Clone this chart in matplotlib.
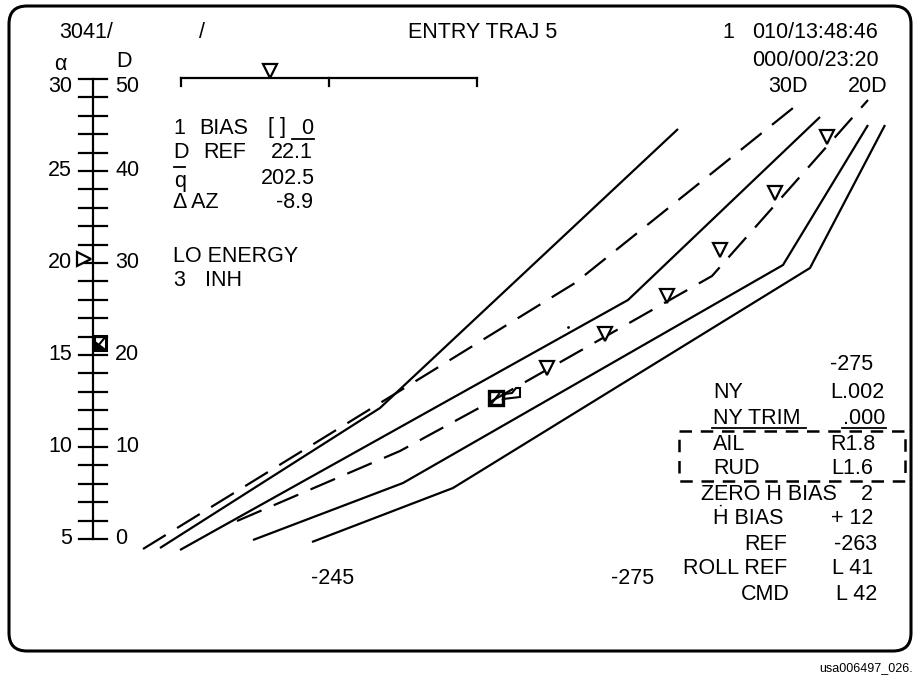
import matplotlib
matplotlib.use("Agg")
import matplotlib.pyplot as plt
from matplotlib.patches import FancyBboxPatch, Rectangle, Polygon

plt.rcParams['font.family'] = ['Liberation Sans', 'DejaVu Sans']

# ---- data read off the display (screen pixel positions) ----
# entry trajectory lines: solid = limits, dashed = reference profiles
s1_x = [160, 380, 678]
s1_y = [548, 408, 129]
d1_x = [143, 575, 793]
d1_y = [549, 283, 108]
s2_x = [180, 628, 820]
s2_y = [550, 300, 117]
d2_x = [237, 400, 490, 712, 868]
d2_y = [521, 451, 402, 276, 100]
s3_x = [253, 403, 783, 868]
s3_y = [540, 483, 265, 125]
s4_x = [312, 453, 810, 885]
s4_y = [542, 488, 268, 125]

# history triangles along the reference line
hist_x = [547, 605, 667, 720, 775, 827]
hist_y = [368, 334, 296, 250, 193, 137]

# orbiter symbol
orb_x = 496
orb_y = 398

# alpha / drag scale
alpha_ticks = list(range(5, 31))
alpha_labels = [5, 10, 15, 20, 25, 30]
drag_labels = [0, 10, 20, 30, 40, 50]
alpha_now = 20.2
drag_now = 21.3

# top (range) scale
range_scale = [181, 329, 477]
range_now = 270

header = [("3041/", 59, 33), ("/", 199, 33), ("ENTRY TRAJ 5", 408, 33),
          ("1", 722, 33), ("010/13:48:46", 752, 33), ("000/00/23:20", 752, 60),
          ("30D", 768, 87), ("20D", 848, 87)]

left_block = [("1", 173, 128), ("BIAS", 199, 128), ("[ ]", 268, 128),
              ("D", 173, 153), ("REF", 203, 153),
              ("q", 174, 181), ("\u0394 AZ", 173, 203),
              ("LO ENERGY", 173, 256), ("3", 173, 280), ("INH", 205, 280)]
left_vals = [("0", 313, 128), ("22.1", 313, 153), ("202.5", 315, 178), ("-8.9", 313, 203)]

right_left = [("NY", 713, 393), ("NY TRIM", 713, 418), ("AIL", 713, 444),
              ("RUD", 713, 468), ("ZERO \u1e22 BIAS", 701, 494), ("\u1e22 BIAS", 713, 519)]
right_rlab = [("REF", 787, 544), ("ROLL REF", 787, 569), ("CMD", 790, 595)]
right_vals = [("L.002", 884, 393), (".000", 885, 418), ("R1.8", 875, 444),
              ("L1.6", 873, 468), ("2", 873, 494), ("+ 12", 873, 519),
              ("-263", 877, 544), ("L 41", 873, 569), ("L 42", 877, 595)]
misc = [("-275", 830, 365), ("-245", 311, 579), ("-275", 611, 579)]

FS = 15.5
LW = 1.6

fig = plt.figure(figsize=(9.15, 6.76), dpi=100)
ax = fig.add_axes([0, 0, 1, 1])
ax.set_xlim(0, 915)
ax.set_ylim(676, 0)
ax.axis('off')

# screen frame
ax.add_patch(FancyBboxPatch((9, 6), 902, 645, boxstyle="round,pad=0,rounding_size=18",
                            fill=False, lw=2.2, ec='black'))

# trajectory lines
for xs, ys in [(s1_x, s1_y), (s2_x, s2_y), (s3_x, s3_y), (s4_x, s4_y)]:
    ax.plot(xs, ys, color='black', lw=LW, solid_capstyle='butt')
for xs, ys in [(d1_x, d1_y), (d2_x, d2_y)]:
    ax.plot(xs, ys, color='black', lw=LW, linestyle=(0, (12, 6)), dash_capstyle='butt')

ax.plot(hist_x, hist_y, 'v', ms=10, mfc='white', mec='black', mew=1.6, ls='none')
ax.plot([568], [327], '.', ms=2, color='black')

# orbiter symbol: square with flag
ax.add_patch(Rectangle((orb_x - 7, orb_y - 7), 14, 14, fill=False, lw=2.4, ec='black'))
ax.plot([orb_x - 4, orb_x + 3], [orb_y + 5, orb_y - 4], color='black', lw=1.5)
ax.add_patch(Polygon([(orb_x + 7, orb_y + 1), (orb_x + 9, orb_y - 4), (orb_x + 16, orb_y - 5),
                      (orb_x + 20, orb_y - 10), (orb_x + 24, orb_y - 10), (orb_x + 24, orb_y - 1)],
                     closed=True, fill=False, lw=1.5, ec='black'))

# top range scale
ax.plot([range_scale[0], range_scale[-1]], [78, 78], color='black', lw=LW)
for x in range_scale:
    ax.plot([x, x], [78, 86], color='black', lw=LW)
ax.plot([range_now], [71], 'v', ms=10, mfc='white', mec='black', mew=1.6)

# text
for s, x, y in header + left_block + right_left + misc:
    ax.text(x, y, s, fontsize=FS, ha='left', va='center')
for s, x, y in left_vals + right_vals + right_rlab:
    ax.text(x, y, s, fontsize=FS, ha='right', va='center')
ax.text(ax.get_xlim()[1] - 2, 668, "usa006497_026.", fontsize=9, ha='right', va='center')

# q bar, bias underline, NY TRIM underline
ax.plot([174, 185], [167, 167], color='black', lw=1.3)
ax.plot([292, 314], [139, 139], color='black', lw=1.3)
ax.plot([712, 806], [428, 428], color='black', lw=1.3)
ax.plot([842, 886], [428, 428], color='black', lw=1.3)

# dashed box round AIL / RUD
ax.add_patch(Rectangle((679, 431), 226, 50, fill=False, lw=1.8, ec='black',
                       linestyle=(0, (5, 3.5))))

# alpha / D scale on its own axis
sx = fig.add_axes([79 / 915, 1 - 539 / 676, 28 / 915, (539 - 79) / 676])
sx.set_xlim(0, 1)
sx.set_ylim(5, 30)
sx.axis('off')
sx.plot([0.5, 0.5], [5, 30], color='black', lw=LW, clip_on=False)
for a in alpha_ticks:
    sx.plot([0, 1], [a, a], color='black', lw=LW, clip_on=False)
for a, d in zip(alpha_labels, drag_labels):
    ya = a - 0.4 if a == 30 else a
    sx.text(-0.25, ya, str(a), fontsize=FS, ha='right', va='center')
    sx.text(1.29, ya, str(d), fontsize=FS, ha='left', va='center')
sx.text(-0.65, 30 + 14 / 18.4, "\u03b1", fontsize=FS, ha='center', va='center')
sx.text(1.6, 30 + 17 / 18.4, "D", fontsize=FS, ha='center', va='center')
sx.plot([0.17], [alpha_now], '>', ms=10, mfc='white', mec='black', mew=1.6, clip_on=False)
dy = 5 + drag_now / 2
sx.add_patch(Rectangle((0.55, dy - 0.38), 0.42, 0.76, fill=False, lw=2.2, ec='black', clip_on=False))
sx.add_patch(Polygon([(0.55, dy - 0.38), (0.97, dy - 0.38), (0.55, dy + 0.1)], closed=True,
                     color='black', clip_on=False))
sx.plot([0.6, 0.95], [dy - 0.3, dy + 0.35], color='black', lw=1.5, clip_on=False)

fig.savefig("out.png", dpi=100, facecolor='white')
